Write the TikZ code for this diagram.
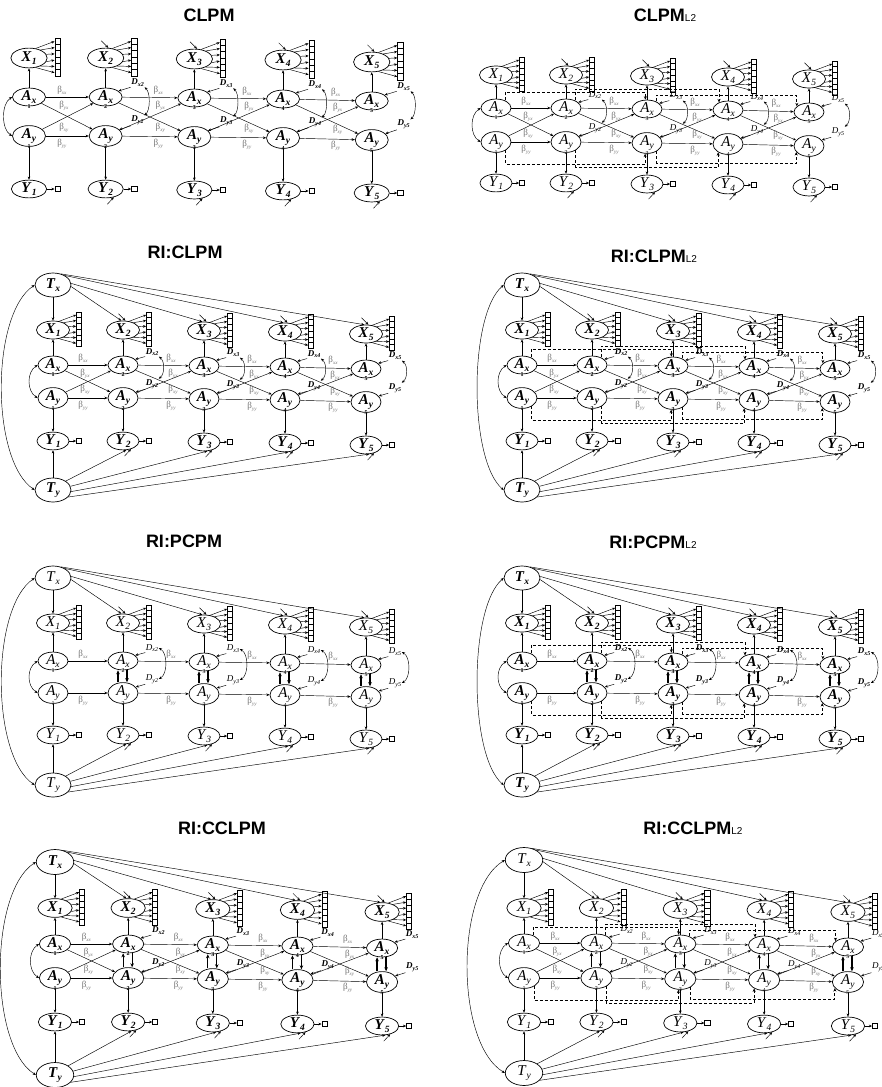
\documentclass[tikz,border=0pt]{standalone}
\usepackage{fontspec}
\setmainfont{Liberation Serif}
\newfontfamily\titlefont{Liberation Sans}
\usetikzlibrary{arrows.meta,calc,shapes.geometric}

\newif\ifpT \newif\ifpCL \newif\ifpWT \newif\ifpLT \newif\ifpBold
\pgfkeys{/pan/.cd,
  name/.store in=\pP, x/.store in=\pXo, y/.store in=\pYo, sx/.store in=\pSX,
  s/.store in=\pS, dX/.store in=\pdX, dAy/.store in=\pdAy, dY/.store in=\pdY,
  dTx/.store in=\pdTx, dTy/.store in=\pdTy, tk/.store in=\pTK, dc/.store in=\pDC,
  title/.store in=\pTitle, tx/.store in=\pTX, ty/.store in=\pTY,
  trait/.is if=pT, cl/.is if=pCL, wt/.is if=pWT, lt/.is if=pLT, bold/.is if=pBold,
  reset/.style={sx=1,s=1,dX=-35,dAy=33,dY=76,dTx=-80,dTy=125,tk=44,dc=1,
     trait=false,cl=true,wt=false,lt=false,bold=false},
}
\newcommand\bfifb{\ifpBold\bfseries\fi}
\newcommand\nf{\fontsize{15}{15}\selectfont\bfifb}
\newcommand\lab[2]{\textit{#1}\raisebox{-0.4ex}{\fontsize{9.5}{9.5}\selectfont\textit{#2}}}
\newcommand\blab[1]{β\raisebox{-0.45ex}{\fontsize{5}{5}\selectfont\textit{#1}}}
\newcommand\dlab[1]{\textit{D}\raisebox{-0.45ex}{\fontsize{6}{6}\selectfont\textit{#1}}}
\newcommand\Ltwo{{\fontsize{10}{10}\selectfont\mdseries L2}}

\tikzset{
  ln/.style={line width=0.45pt},
  arr/.style={ln,-{Stealth[length=3.2pt,width=2.6pt]}},
  darr/.style={ln,{Stealth[length=3.2pt,width=2.6pt]}-{Stealth[length=3.2pt,width=2.6pt]}},
  thk/.style={line width=1.2pt,-{Stealth[length=4pt,width=3.5pt]}},
  ltwo/.style={line width=0.8pt,dash pattern=on 3pt off 2pt,-{Stealth[length=3.5pt,width=3pt]}},
  el/.style={ellipse,draw,line width=0.7pt,inner sep=0pt,font=\nf},
  ttl/.style={font=\titlefont\bfseries\fontsize{18}{18}\selectfont,inner sep=0pt},
  tnum/.style={font=\fontsize{6}{6}\selectfont\bfifb,inner sep=0pt},
  ibox/.style={draw,line width=0.6pt,inner sep=0pt},
  blab/.style={font=\fontsize{9}{9}\selectfont,text=black!55,inner sep=0pt},
  dl/.style={font=\fontsize{9}{9}\selectfont\bfifb,inner sep=0.5pt},
}

\newcommand\DrawPanel[1]{%
 \pgfkeys{/pan/.cd,reset,#1}%
 \pgfmathsetmacro\wX{33*\pS}\pgfmathsetmacro\hX{18*\pS}%
 \pgfmathsetmacro\wA{30*\pS}\pgfmathsetmacro\hA{16*\pS}%
 \pgfmathsetmacro\wY{32*\pS}\pgfmathsetmacro\hY{16*\pS}%
 \pgfmathsetmacro\wT{36*\pS}\pgfmathsetmacro\hT{24*\pS}%
 \pgfmathsetmacro\bw{5*\pS}\pgfmathsetmacro\bh{5.7*\pS}%
 \node[ttl] (\pP title) at (\pTX,\pTY) {\pTitle};
 \foreach \t in {1,...,5}{%
   \pgfmathtruncatemacro\ti{\t-1}%
   \pgfmathsetmacro\cx{\pXo+\pSX*{0,70,151,232,313}[\ti]}%
   \pgfmathsetmacro\cy{\pYo+{0,0,1,2,4}[\ti]}%
   \node[el,minimum width=\wA pt,minimum height=\hA pt] (\pP Ax\t) at (\cx,\cy) {\lab{A}{x}};
   \node[el,minimum width=\wA pt,minimum height=\hA pt] (\pP Ay\t) at (\cx,\cy+\pdAy) {\lab{A}{y}};
   \node[el,minimum width=\wX pt,minimum height=\hX pt] (\pP X\t) at (\cx,\cy+\pdX) {\lab{X}{\t}};
   \node[el,minimum width=\wY pt,minimum height=\hY pt] (\pP Y\t) at (\cx,\cy+\pdY) {\lab{Y}{\t}};
   \node[tnum] (\pP nx\t) at (\pP Ax\t.south) {\t};
   \node[tnum] (\pP ny\t) at (\pP Ay\t.south) {\t};
   \draw[arr] (\pP Ax\t) -- (\pP X\t);
   \draw[arr] (\pP Ay\t) -- (\pP Y\t);
   \foreach \i in {1,...,6}{%
     \pgfmathsetmacro\by{\cy+\pdX-18*\pS+(\i-0.5)*5.7*\pS}%
     \pgfmathtruncatemacro\ang{{55,35,12,-12,-35,-55}[\i-1]}%
     \node[ibox,minimum width=\bw pt,minimum height=\bh pt] (\pP b\t-\i) at (\cx+26*\pS,\by) {};
     \draw[arr] (\pP X\t.\ang) -- (\pP b\t-\i.west);
   }
   \node[ibox,minimum width=\bw pt,minimum height=\bw pt] (\pP yb\t) at (\cx+26*\pS,\cy+\pdY) {};
   \draw[arr] (\pP Y\t.east) -- (\pP yb\t.west);
   \ifnum\t>1
     \coordinate (\pP xe\t) at ($(\pP X\t.75)+(-7,-7)$);
     \draw[arr] (\pP xe\t) -- (\pP X\t.75);
     \coordinate (\pP ye\t) at ($(\pP Y\t.-45)+(-6.5,7)$);
     \draw[arr] (\pP ye\t) -- (\pP Y\t.-45);
     \node[dl] (\pP Dx\t) at ($(\pP Ax\t)+(29*\pS,-13*\pS)$) {\dlab{x\t}};
     \node[dl] (\pP Dy\t) at ($(\pP Ay\t)+(29*\pS,-14*\pS)$) {\dlab{y\t}};
     \draw[arr] (\pP Dx\t.south west) -- (\pP Ax\t.25);
     \draw[arr] (\pP Dy\t.south west) -- (\pP Ay\t.25);
     \ifnum\pDC=1
       \draw[darr] (\pP Dx\t.south east) .. controls +(6,5) and +(6,-5) .. (\pP Dy\t.north east);
     \fi
     \ifnum\pDC=2
       \draw[darr] (\pP Dx\t.east) .. controls +(9,5) and +(9,-5) .. (\pP Dy\t.east);
     \fi
     \ifpWT
       \draw[thk] ([xshift=-5pt]\pP Ay\t.north) -- ([xshift=-5pt]\pP Ax\t.south);
       \draw[thk] ([xshift=4pt]\pP Ax\t.south) -- ([xshift=4pt]\pP Ay\t.north);
     \fi
   \fi
 }
 \foreach \t/\u in {1/2,2/3,3/4,4/5}{%
   \pgfmathsetmacro\off{ifthenelse(\t==1,30,48)*\pSX}%
   \draw[arr] (\pP Ax\t) -- (\pP Ax\u);
   \draw[arr] (\pP Ay\t) -- (\pP Ay\u);
   \node[blab] (\pP bxx\t) at ($(\pP Ax\t)+(\off,-7)$) {\blab{xx}};
   \node[blab] (\pP byy\t) at ($(\pP Ay\t)+(\off,8)$) {\blab{yy}};
   \ifpCL
     \draw[arr] (\pP Ax\t) -- (\pP Ay\u);
     \draw[arr] (\pP Ay\t) -- (\pP Ax\u);
     \node[blab] (\pP byx\t) at ($(\pP Ax\t)+(\off+2,9)$) {\blab{yx}};
     \node[blab] (\pP bxy\t) at ($(\pP Ay\t)+(\off+2,-8)$) {\blab{xy}};
   \fi
 }
 \draw[darr] (\pP Ax1.west) .. controls +(-11,7) and +(-11,-7) .. (\pP Ay1.west);
 \ifpT
   \node[el,minimum width=\wT pt,minimum height=\hT pt] (\pP Tx) at (\pXo,\pYo+\pdTx) {\lab{T}{x}};
   \node[el,minimum width=\wT pt,minimum height=\hT pt] (\pP Ty) at (\pXo,\pYo+\pdTy) {\lab{T}{y}};
   \draw[arr] (\pP Tx) -- (\pP X1);
   \draw[arr] (\pP Tx.-5) -- (\pP X2.100);
   \draw[arr] (\pP Tx.5) -- (\pP X3.100);
   \draw[arr] (\pP Tx.40) -- (\pP X4.100);
   \draw[arr] (\pP Tx.55) -- (\pP X5.100);
   \draw[arr] (\pP Ty) -- (\pP Y1);
   \draw[arr] (\pP Ty.35) -- (\pP Y2.-70);
   \draw[arr] (\pP Ty.12) -- (\pP Y3.-70);
   \draw[arr] (\pP Ty.-5) -- (\pP Y4.-70);
   \draw[arr] (\pP Ty.-25) -- (\pP Y5.-70);
   \draw[darr] (\pP Tx.west) .. controls +(-\pTK,30) and +(-\pTK,-30) .. (\pP Ty.west);
 \fi
 \ifpLT
   \draw[ltwo] (\pP Ax1.40) -- ++(0,-8) -| (\pP Ax3.100);
   \draw[ltwo] (\pP Ax2.40) -- ++(0,-11) -| (\pP Ax4.140);
   \draw[ltwo] (\pP Ax3.40) -- ++(0,-6) -| (\pP Ax5.155);
   \draw[ltwo] (\pP Ay1.-40) -- ++(0,14) -| (\pP Ay3.-100);
   \draw[ltwo] (\pP Ay2.-40) -- ++(0,17) -| (\pP Ay4.-140);
   \draw[ltwo] (\pP Ay3.-40) -- ++(0,12) -| (\pP Ay5.-155);
 \fi
}

\begin{document}
\begin{tikzpicture}[x=1pt,y=-1pt]
\fill[white] (0,0) rectangle (882,1087);
\useasboundingbox (0,0) rectangle (882,1087);
\DrawPanel{name=p1,x=29,y=97,sx=1.095,s=1.1,dX=-39,dAy=39,dY=92,bold=true,dc=1,
  title={CLPM},tx=209,ty=15}
\DrawPanel{name=p2,x=496,y=108,dX=-33,dAy=34,dY=75,lt=true,dc=1,
  title={CLPM\Ltwo},tx=665,ty=15}
\DrawPanel{name=p3,x=53,y=365,dX=-35,dAy=33,dY=76,dTx=-80,dTy=125,tk=44,trait=true,bold=true,dc=1,
  title={RI:CLPM},tx=185,ty=252}
\DrawPanel{name=p4,x=522,y=365,dX=-35,dAy=33,dY=76,dTx=-80,dTy=125,tk=35,trait=true,lt=true,bold=true,dc=1,
  title={RI:CLPM\Ltwo},tx=654,ty=256}
\DrawPanel{name=p5,x=53,y=661,dX=-38,dAy=32,dY=74,dTx=-83,dTy=124,tk=44,trait=true,cl=false,wt=true,dc=2,
  title={RI:PCPM},tx=184,ty=541}
\DrawPanel{name=p6,x=522,y=661,dX=-38,dAy=32,dY=74,dTx=-83,dTy=124,tk=35,trait=true,cl=false,wt=true,lt=true,bold=true,dc=2,
  title={RI:PCPM\Ltwo},tx=653,ty=542}
\DrawPanel{name=p7,x=55,y=944,sx=1.045,s=1.04,dX=-36,dAy=34,dY=78,dTx=-82,dTy=131,tk=47,trait=true,wt=true,bold=true,dc=0,
  title={RI:CCLPM},tx=222,ty=828}
\DrawPanel{name=p8,x=524,y=943,sx=1.035,s=1.04,dX=-35,dAy=35,dY=79,dTx=-83,dTy=130,tk=50,trait=true,wt=true,lt=true,dc=0,
  title={RI:CCLPM\Ltwo},tx=693,ty=828}
\end{tikzpicture}
\end{document}
